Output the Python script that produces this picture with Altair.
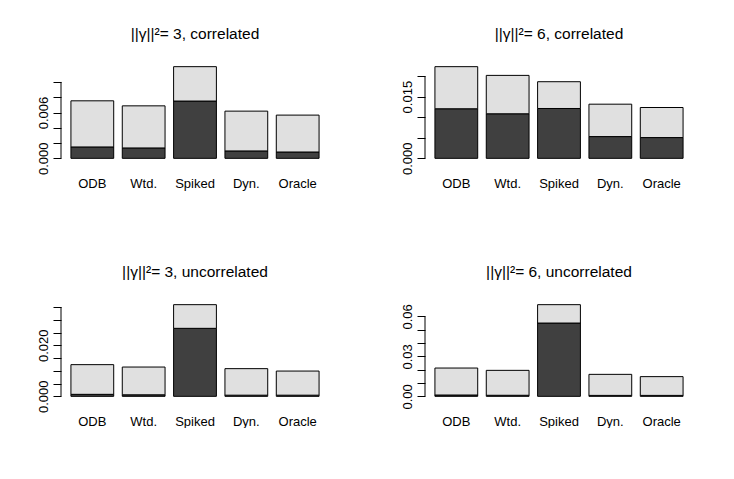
import json
import altair as alt
import pandas as pd

methods = ["ODB", "Wtd.", "Spiked", "Dyn.", "Oracle"]

titles = [
    "||γ||²= 3, correlated",
    "||γ||²= 6, correlated",
    "||γ||²= 3, uncorrelated",
    "||γ||²= 6, uncorrelated",
]

# dark (lower) segment and total height per method
dark_1 = [0.00149, 0.00136, 0.00750, 0.00097, 0.00083]
total_1 = [0.00753, 0.00687, 0.01200, 0.00618, 0.00566]
dark_2 = [0.01205, 0.01083, 0.01212, 0.00529, 0.00505]
total_2 = [0.02229, 0.02017, 0.01863, 0.01317, 0.01236]
dark_3 = [0.00078, 0.00060, 0.02665, 0.00045, 0.00045]
total_3 = [0.01242, 0.01148, 0.03593, 0.01085, 0.00991]
dark_4 = [0.00100, 0.00080, 0.05500, 0.00070, 0.00070]
total_4 = [0.02123, 0.01950, 0.06879, 0.01650, 0.01478]

ticks_1 = [0.0, 0.002, 0.004, 0.006, 0.008, 0.010]
shown_1 = [0.0, 0.006]
ticks_2 = [0.0, 0.005, 0.010, 0.015, 0.020]
shown_2 = [0.0, 0.015]
ticks_3 = [0.0, 0.005, 0.010, 0.015, 0.020, 0.025, 0.030, 0.035]
shown_3 = [0.0, 0.020]
ticks_4 = [0.0, 0.01, 0.02, 0.03, 0.04, 0.05, 0.06]
shown_4 = [0.0, 0.03, 0.06]
fmts = [".3f", ".3f", ".3f", ".2f"]

DARK = "#404040"
LIGHT = "#E0E0E0"
FONT = "Liberation Sans"
W = 268
H = 99


def panel(title, dark, total, ticks, shown, fmt):
    rows = []
    for m, d, t in zip(methods, dark, total):
        rows.append({"method": m, "part": "dark", "lo": 0.0, "hi": d})
        rows.append({"method": m, "part": "light", "lo": d, "hi": t})
    df = pd.DataFrame(rows)
    top = max(total)
    yscale = alt.Scale(domain=[-0.04 * top, 1.04 * top], nice=False, zero=False)
    xscale = alt.Scale(domain=methods, paddingInner=1 / 6, paddingOuter=0.1933)
    label_expr = (
        f"indexof({json.dumps(shown)}, datum.value) >= 0 ? "
        f"format(datum.value, '{fmt}') : ''"
    )
    bars = (
        alt.Chart(df)
        .mark_bar(stroke="black", strokeWidth=1)
        .encode(
            x=alt.X(
                "method:N",
                scale=xscale,
                sort=methods,
                axis=alt.Axis(
                    title=None, domain=False, ticks=False, labelAngle=0,
                    labelPadding=15, labelFontSize=13, labelFont=FONT,
                    labelColor="black",
                ),
            ),
            y=alt.Y(
                "lo:Q",
                scale=yscale,
                axis=alt.Axis(
                    title=None, domain=False, grid=False, values=ticks,
                    tickCount=50, tickSize=8, tickColor="black", tickWidth=1,
                    labelExpr=label_expr, labelAngle=270, labelAlign="center",
                    labelBaseline="alphabetic", labelPadding=6,
                    labelOverlap=False, labelFontSize=13, labelFont=FONT,
                    labelColor="black",
                ),
            ),
            y2="hi:Q",
            color=alt.Color(
                "part:N",
                scale=alt.Scale(domain=["dark", "light"], range=[DARK, LIGHT]),
                legend=None,
            ),
        )
    )
    axis_line = (
        alt.Chart(pd.DataFrame({"lo": [ticks[0]], "hi": [ticks[-1]]}))
        .mark_rule(color="black", strokeWidth=1)
        .encode(x=alt.value(0), y=alt.Y("lo:Q", scale=yscale), y2="hi:Q")
    )
    return alt.layer(bars, axis_line).properties(
        width=W,
        height=H,
        title=alt.TitleParams(
            title, fontSize=15.5, font=FONT, fontWeight="normal",
            color="black", anchor="middle", offset=21,
        ),
    )


p1 = panel(titles[0], dark_1, total_1, ticks_1, shown_1, fmts[0])
p2 = panel(titles[1], dark_2, total_2, ticks_2, shown_2, fmts[1])
p3 = panel(titles[2], dark_3, total_3, ticks_3, shown_3, fmts[2])
p4 = panel(titles[3], dark_4, total_4, ticks_4, shown_4, fmts[3])

chart = (
    alt.vconcat(
        alt.hconcat(p1, p2, spacing=71),
        alt.hconcat(p3, p4, spacing=71),
        spacing=74,
    )
    .properties(
        padding={"left": 28, "top": 18, "right": 0, "bottom": 0},
        background="white",
    )
    .configure_view(stroke=None, strokeWidth=0)
)

chart.save("out.html", embed_options={"renderer": "svg", "actions": False})
